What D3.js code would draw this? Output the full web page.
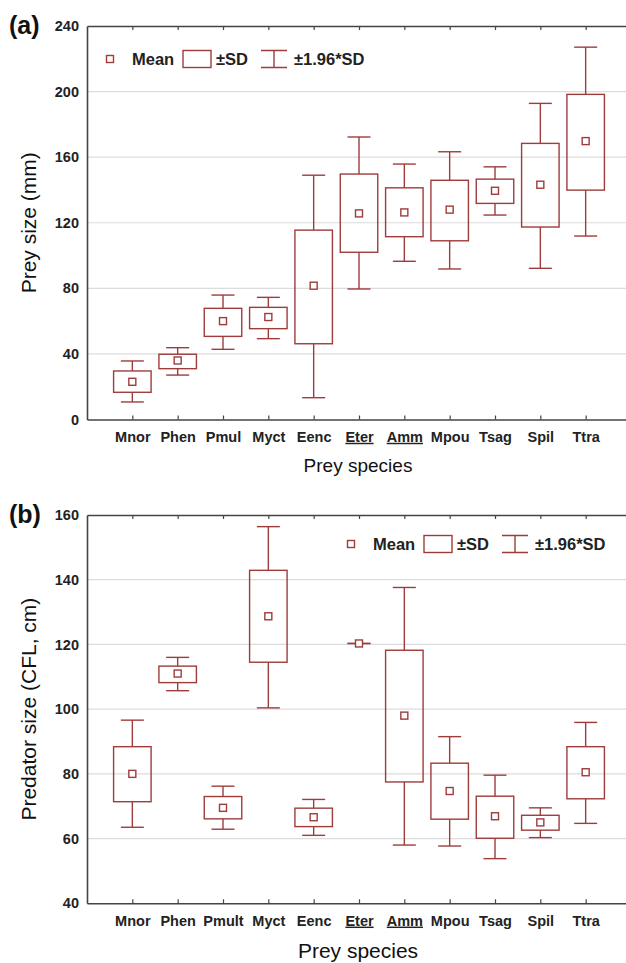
<!DOCTYPE html>
<html>
<head>
<meta charset="utf-8">
<script src="https://cdn.jsdelivr.net/npm/d3@7"></script>
<style>
  body { margin: 0; background: #fff; }
  svg { display: block; font-family: "Liberation Sans", Arial, sans-serif; }
  .tick text { fill: #222; }
</style>
</head>
<body>
<svg id="chart" width="626" height="963"></svg>
<script>
// panel (a): prey size, mm
var speciesA = ["Mnor","Phen","Pmul","Myct","Eenc","Eter","Amm","Mpou","Tsag","Spil","Ttra"];
var preyMean   = [23, 36, 60, 62.5, 81.6, 125.7, 126.3, 128, 139.5, 143.2, 169.8];
var preySdLow  = [16.6, 31, 50.7, 55.4, 46.2, 102, 111.5, 109, 131.8, 117.4, 139.9];
var preySdHigh = [29.6, 39.8, 67.8, 68.4, 115.5, 149.7, 141.3, 145.9, 146.6, 168.4, 198.3];
var preyCiLow  = [10.7, 27.1, 42.8, 49.3, 13.3, 79.6, 96.5, 91.8, 124.7, 92.2, 111.9];
var preyCiHigh = [35.7, 43.8, 75.9, 74.5, 149, 172.3, 155.8, 163.3, 154.1, 192.8, 227.1];
var preyTicks  = [0, 40, 80, 120, 160, 200, 240];

// panel (b): predator size, CFL cm
var speciesB = ["Mnor","Phen","Pmult","Myct","Eenc","Eter","Amm","Mpou","Tsag","Spil","Ttra"];
var predMean   = [80, 111, 69.5, 128.7, 66.6, 120.3, 98, 74.7, 66.9, 65, 80.5];
var predSdLow  = [71.4, 108.2, 66.1, 114.5, 63.7, 120.3, 77.5, 66, 60.1, 62.6, 72.3];
var predSdHigh = [88.4, 113.3, 73, 142.9, 69.4, 120.3, 118.2, 83.3, 73.1, 67.2, 88.4];
var predCiLow  = [63.5, 105.7, 62.9, 100.4, 61, 120.3, 58, 57.7, 53.8, 60.3, 64.7];
var predCiHigh = [96.6, 116, 76.2, 156.4, 72.1, 120.3, 137.6, 91.5, 79.6, 69.5, 95.9];
var predTicks  = [40, 60, 80, 100, 120, 140, 160];

var underlined = ["Eter","Amm"];

var red = "#9e3c3c", axisCol = "#444", gridCol = "#dcdcdc";
var svg = d3.select("#chart");

function panel(cfg) {
  var g = svg.append("g");
  var left = 87, right = 631;
  var x = d3.scalePoint().domain(cfg.species).range([left, right]).padding(1);
  var y = d3.scaleLinear().domain(cfg.domain).range([cfg.bottom, cfg.top]);

  // gridlines
  g.selectAll(".grid").data(cfg.ticks.slice(1, -1)).enter().append("line")
    .attr("x1", left).attr("x2", right)
    .attr("y1", d => y(d)).attr("y2", d => y(d))
    .attr("stroke", gridCol).attr("stroke-width", 1.2);

  // axes
  var ya = g.append("g").attr("transform", `translate(${left},0)`)
    .call(d3.axisLeft(y).tickValues(cfg.ticks).tickSize(0).tickPadding(8));
  ya.select(".domain").attr("stroke", axisCol).attr("stroke-width", 1.6);
  ya.selectAll("text").attr("font-size", 14.5).attr("font-weight", "bold");

  var xa = g.append("g").attr("transform", `translate(0,${cfg.bottom})`)
    .call(d3.axisBottom(x).tickSizeInner(-4).tickSizeOuter(0).tickPadding(12));
  xa.select(".domain").attr("stroke", axisCol).attr("stroke-width", 1.6);
  xa.selectAll("line").attr("stroke", axisCol).attr("stroke-width", 1.2);
  xa.selectAll("text").attr("font-size", 14.5).attr("font-weight", "bold")
    .attr("text-decoration", d => underlined.includes(d) ? "underline" : null);

  var xt = g.append("g").attr("transform", `translate(0,${cfg.top})`)
    .call(d3.axisTop(x).tickSizeInner(-4).tickSizeOuter(0).tickFormat(""));
  xt.select(".domain").attr("stroke", axisCol).attr("stroke-width", 1.6);
  xt.selectAll("line").attr("stroke", axisCol).attr("stroke-width", 1.2);

  // boxes
  var boxW = 37.5, capW = 23;
  var rows = cfg.species.map((s, i) => ({s: s, m: cfg.mean[i], sl: cfg.sdLow[i], sh: cfg.sdHigh[i], cl: cfg.ciLow[i], ch: cfg.ciHigh[i]}));
  var b = g.selectAll(".box").data(rows).enter().append("g")
    .attr("fill", "none").attr("stroke", red).attr("stroke-width", 1.4);
  b.append("line").attr("x1", d => x(d.s)).attr("x2", d => x(d.s))
    .attr("y1", d => y(d.ch)).attr("y2", d => y(d.sh));
  b.append("line").attr("x1", d => x(d.s)).attr("x2", d => x(d.s))
    .attr("y1", d => y(d.sl)).attr("y2", d => y(d.cl));
  b.append("line").attr("x1", d => x(d.s) - capW/2).attr("x2", d => x(d.s) + capW/2)
    .attr("y1", d => y(d.ch)).attr("y2", d => y(d.ch));
  b.append("line").attr("x1", d => x(d.s) - capW/2).attr("x2", d => x(d.s) + capW/2)
    .attr("y1", d => y(d.cl)).attr("y2", d => y(d.cl));
  b.append("rect").attr("x", d => x(d.s) - boxW/2).attr("width", boxW)
    .attr("y", d => y(d.sh)).attr("height", d => y(d.sl) - y(d.sh));
  b.append("rect").attr("x", d => x(d.s) - 3.5).attr("y", d => y(d.m) - 3.5)
    .attr("width", 7).attr("height", 7).attr("fill", "#fff");

  // legend
  var L = cfg.legend;
  var lg = g.append("g").attr("font-size", 16.5).attr("font-weight", "bold").attr("fill", "#222");
  lg.append("rect").attr("x", L.x - 3.5).attr("y", L.y - 3.5).attr("width", 7).attr("height", 7)
    .attr("fill", "#fff").attr("stroke", red).attr("stroke-width", 1.4);
  lg.append("text").attr("x", L.x + 22).attr("y", L.y + 6).text("Mean");
  lg.append("rect").attr("x", L.x + 73).attr("y", L.y - 8.5).attr("width", 28).attr("height", 17)
    .attr("fill", "none").attr("stroke", red).attr("stroke-width", 1.4);
  lg.append("text").attr("x", L.x + 106).attr("y", L.y + 6).text("±SD");
  var wx = L.x + 164;
  lg.append("path").attr("d", `M${wx-13},${L.y-8.5}H${wx+13}M${wx},${L.y-8.5}V${L.y+8.5}M${wx-13},${L.y+8.5}H${wx+13}`)
    .attr("fill", "none").attr("stroke", red).attr("stroke-width", 1.4);
  lg.append("text").attr("x", wx + 20).attr("y", L.y + 6).text("±1.96*SD");

  // titles
  g.append("text").attr("x", 9).attr("y", cfg.top + 8).attr("font-size", 25).attr("font-weight", "bold")
    .attr("fill", "#111").text(cfg.tag);
  g.append("text").attr("transform", `translate(36,${(cfg.top + cfg.bottom)/2}) rotate(-90)`)
    .attr("text-anchor", "middle").attr("font-size", 21).attr("fill", "#111").text(cfg.ytitle);
  g.append("text").attr("x", 358).attr("y", cfg.bottom + cfg.xtitleDy).attr("text-anchor", "middle")
    .attr("font-size", cfg.xtitleSize).attr("fill", "#111").text("Prey species");
}

panel({tag: "(a)", species: speciesA, mean: preyMean, sdLow: preySdLow, sdHigh: preySdHigh,
  ciLow: preyCiLow, ciHigh: preyCiHigh, ticks: preyTicks, domain: [0, 240],
  top: 26, bottom: 419.5, ytitle: "Prey size (mm)", legend: {x: 110, y: 59},
  xtitleDy: 52, xtitleSize: 19});

panel({tag: "(b)", species: speciesB, mean: predMean, sdLow: predSdLow, sdHigh: predSdHigh,
  ciLow: predCiLow, ciHigh: predCiHigh, ticks: predTicks, domain: [40, 160],
  top: 515, bottom: 903.3, ytitle: "Predator size (CFL, cm)", legend: {x: 351, y: 544},
  xtitleDy: 55, xtitleSize: 21});
</script>
</body>
</html>
